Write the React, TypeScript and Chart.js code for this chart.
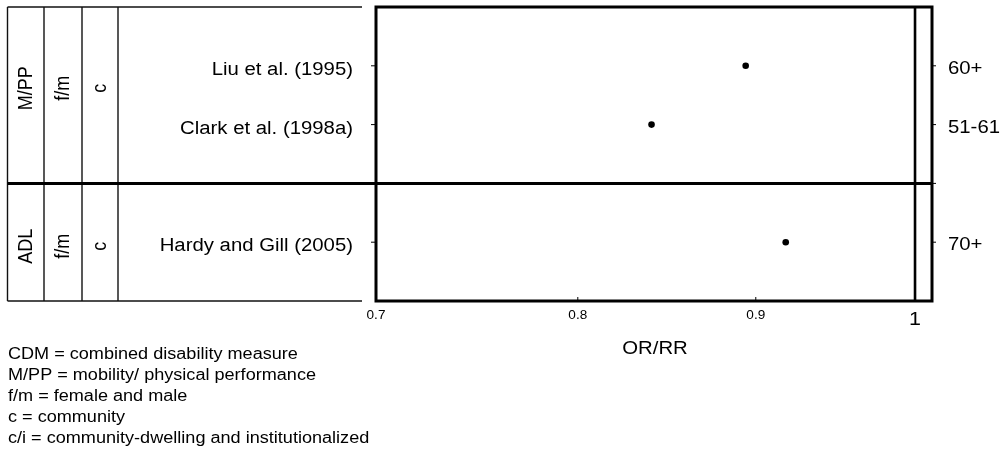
import React, { useEffect, useRef } from "react";
import { Chart, registerables } from "chart.js";

Chart.register(...registerables);

// ---------- data ----------
const outcomes = ["M/PP", "ADL"];
const sexes = ["f/m", "f/m"];
const settings = ["c", "c"];
const groupBounds = [
  [0, 3],
  [3, 5],
];
const studies = ["Liu et al. (1995)", "Clark et al. (1998a)", "Hardy and Gill (2005)"];
const studyRows = [1, 2, 4];
const ageGroups = ["60+", "51-61", "70+"];
const orValues = [0.894, 0.84, 0.918];
const xTicks = [0.7, 0.8, 0.9, 1];
const xTickLabels = ["0.7", "0.8", "0.9", "1"];
const referenceValue = 1;
const xTitle = "OR/RR";
const legendLines = [
  "CDM = combined disability measure",
  "M/PP = mobility/ physical performance",
  "f/m = female and male",
  "c = community",
  "c/i = community-dwelling and institutionalized",
];

// ---------- layout ----------
const X_MIN = 0.7;
const X_MAX = 1.0113;
const ROW_MIN = 0;
const ROW_MAX = 5;
const GROUP_LABEL_ROWS = [1.38, 4.07];
const COL_X = [7.5, 44, 82, 118];
const TABLE_RIGHT = 362;
const FONT = '"Liberation Sans", Arial, sans-serif';
const SX = 1.13;

function drawText(
  ctx: CanvasRenderingContext2D,
  s: string,
  x: number,
  y: number,
  size: number,
  align: CanvasTextAlign,
  rotate = false
) {
  ctx.save();
  ctx.translate(x, y);
  ctx.scale(SX, 1);
  if (rotate) ctx.rotate(-Math.PI / 2);
  ctx.font = `${size}px ${FONT}`;
  ctx.textAlign = align;
  ctx.textBaseline = "middle";
  ctx.fillStyle = "#000";
  ctx.fillText(s, 0, 0);
  ctx.restore();
}

function line(
  ctx: CanvasRenderingContext2D,
  x1: number,
  y1: number,
  x2: number,
  y2: number,
  w: number,
  color = "#000"
) {
  ctx.save();
  ctx.beginPath();
  ctx.moveTo(x1, y1);
  ctx.lineTo(x2, y2);
  ctx.lineWidth = w;
  ctx.strokeStyle = color;
  ctx.lineCap = "butt";
  ctx.stroke();
  ctx.restore();
}

const forestPlugin = {
  id: "forestPlugin",
  beforeDatasetsDraw(chart: any) {
    const { ctx, chartArea: a, scales } = chart;
    const px = (v: number) => scales.x.getPixelForValue(v);
    const py = (v: number) => scales.y.getPixelForValue(v);

    // table lines
    line(ctx, COL_X[0], py(ROW_MIN), TABLE_RIGHT, py(ROW_MIN), 1.4, "#111");
    line(ctx, COL_X[0], py(ROW_MAX), TABLE_RIGHT, py(ROW_MAX), 1.4, "#111");
    COL_X.forEach((cx) => line(ctx, cx, py(ROW_MIN), cx, py(ROW_MAX), 1.4, "#111"));

    // group dividers (thick, across table and plot)
    groupBounds.slice(1).forEach((b) => {
      line(ctx, COL_X[0], py(b[0]), a.right, py(b[0]), 3);
    });

    // plot box
    ctx.save();
    ctx.lineWidth = 3;
    ctx.strokeStyle = "#000";
    ctx.strokeRect(a.left, a.top, a.right - a.left, a.bottom - a.top);
    ctx.restore();

    // reference line
    line(ctx, px(referenceValue), a.top, px(referenceValue), a.bottom, 2.6);

    // y ticks
    studyRows.forEach((r) => {
      line(ctx, a.left - 5, py(r), a.left, py(r), 1);
      line(ctx, a.right, py(r), a.right + 4, py(r), 1);
    });
    groupBounds.slice(1).forEach((b) => line(ctx, a.right, py(b[0]), a.right + 4, py(b[0]), 1));

    // x ticks
    xTicks.forEach((t) => {
      if (t > X_MIN && t < referenceValue) line(ctx, px(t), a.bottom, px(t), a.bottom - 4, 1);
    });
  },
  afterDraw(chart: any) {
    const { ctx, chartArea: a, scales } = chart;
    const px = (v: number) => scales.x.getPixelForValue(v);
    const py = (v: number) => scales.y.getPixelForValue(v);

    // rotated group labels
    groupBounds.forEach((_, g) => {
      const cy = py(GROUP_LABEL_ROWS[g]);
      const cols = [outcomes[g], sexes[g], settings[g]];
      cols.forEach((s, i) => {
        const cx = (COL_X[i] + COL_X[i + 1]) / 2 + 0.5;
        drawText(ctx, s, cx, cy, 18, "center", true);
      });
    });

    // study names and age groups
    studies.forEach((s, i) => {
      drawText(ctx, s, 353, py(studyRows[i]) + 4, 18, "right");
      drawText(ctx, ageGroups[i], a.right + 16, py(studyRows[i]) + 3, 18, "left");
    });

    // x tick labels
    xTicks.forEach((t, i) => {
      if (t === referenceValue) drawText(ctx, xTickLabels[i], px(t), a.bottom + 19, 19, "center");
      else drawText(ctx, xTickLabels[i], px(t), a.bottom + 15, 12, "center");
    });

    // x title
    drawText(ctx, xTitle, (a.left + a.right) / 2 + 1, a.bottom + 48, 18, "center");

    // legend notes
    legendLines.forEach((s, i) => drawText(ctx, s, 8, 355 + 21 * i, 16, "left"));
  },
};

export default function App() {
  const ref = useRef<HTMLCanvasElement | null>(null);

  useEffect(() => {
    if (!ref.current) return;
    const chart = new Chart(ref.current, {
      type: "scatter",
      data: {
        datasets: [
          {
            data: orValues.map((v, i) => ({ x: v, y: studyRows[i] })),
            backgroundColor: "#000",
            borderColor: "#000",
            borderWidth: 0,
            pointRadius: 3.3,
            pointHoverRadius: 3.3,
          },
        ],
      },
      options: {
        responsive: false,
        animation: false,
        devicePixelRatio: 1,
        layout: { padding: { left: 376, right: 73, top: 7, bottom: 152 } },
        plugins: {
          legend: { display: false },
          tooltip: { enabled: false },
        },
        scales: {
          x: { type: "logarithmic", min: X_MIN, max: X_MAX, display: false },
          y: { type: "linear", min: ROW_MIN, max: ROW_MAX, reverse: true, display: false },
        },
      },
      plugins: [forestPlugin],
    });
    return () => chart.destroy();
  }, []);

  return (
    <div style={{ position: "fixed", left: 0, top: 0, width: 1005, height: 453, background: "#fff" }}>
      <canvas ref={ref} width={1005} height={453} style={{ display: "block" }} />
    </div>
  );
}
